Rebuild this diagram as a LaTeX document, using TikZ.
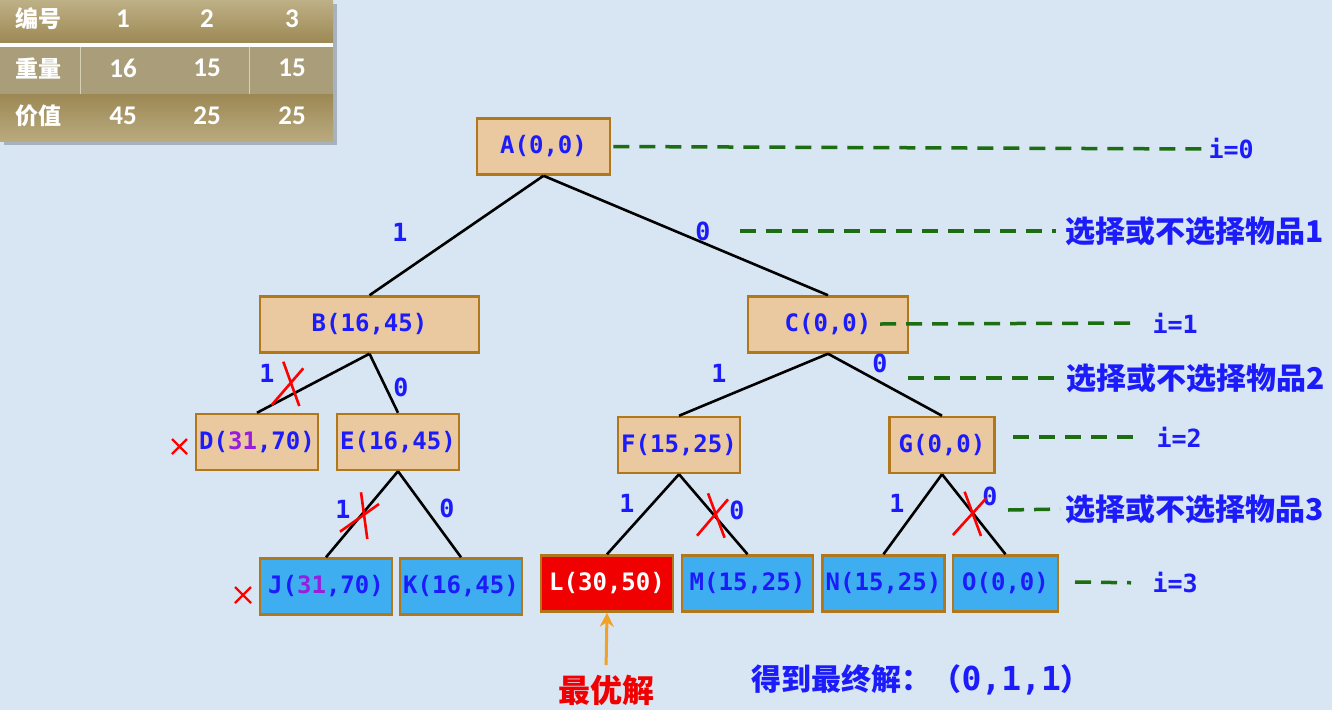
\documentclass[tikz,border=0pt]{standalone}
\usepackage{fontspec}
\setmonofont{DejaVu Sans Mono}
\newfontfamily\cjk{Noto Sans CJK SC}
\newfontfamily\tabfont{Carlito}
\usetikzlibrary{arrows.meta}

\definecolor{bgblue}{RGB}{216,229,243}
\definecolor{tanfill}{RGB}{234,200,160}
\definecolor{leafblue}{RGB}{62,174,240}
\definecolor{bestred}{RGB}{240,0,0}
\definecolor{boxedge}{RGB}{176,120,26}
\definecolor{labelblue}{RGB}{28,28,250}
\definecolor{numpurple}{RGB}{150,30,220}
\definecolor{guidegreen}{RGB}{28,110,16}
\definecolor{arroworange}{RGB}{240,162,40}
\definecolor{tabtop}{RGB}{190,176,134}
\definecolor{tabbot}{RGB}{156,136,84}
\definecolor{tabmid}{RGB}{170,158,122}

\tikzset{
  tanbox/.style={draw=boxedge,fill=tanfill,line width=2.5pt,minimum height=56pt,inner sep=2pt,
    text=labelblue,font=\ttfamily\bfseries\fontsize{24}{28}\selectfont},
  leafbox/.style={tanbox,fill=leafblue},
  bestbox/.style={tanbox,fill=bestred,text=white},
  branch/.style={line width=2.6pt},
  bit/.style={text=labelblue,font=\ttfamily\bfseries\fontsize{25}{28}\selectfont},
  cut/.style={draw=red,line width=2.6pt},
  guide/.style={draw=guidegreen,line width=3.5pt,dash pattern=on 16pt off 10pt},
  stage/.style={anchor=west,text=labelblue,font=\ttfamily\bfseries\fontsize{25}{28}\selectfont},
  choice/.style={anchor=west,text=labelblue,font=\cjk\bfseries\fontsize{30}{32}\selectfont},
  tabhead/.style={text=white,font=\cjk\bfseries\fontsize{23}{26}\selectfont},
  tabcell/.style={text=white,font=\tabfont\bfseries\fontsize{27}{30}\selectfont},
}

\begin{document}
\begin{tikzpicture}[x=1pt,y=-1pt,>={Stealth[length=14pt,width=14pt]}]
    \useasboundingbox (0,0) rectangle (1332,710);
    \fill[bgblue] (0,0) rectangle (1332,710);
    % table
    \fill[black,opacity=0.22] (4,4) rectangle (337,145);
    \shade[top color=tabtop,bottom color=tabbot] (0,0) rectangle (333,43);
    \fill[white] (0,43) rectangle (333,47);
    \fill[tabmid] (0,47) rectangle (333,94);
    \shade[top color=tabbot,bottom color=tabtop!85!tabbot] (0,94) rectangle (333,141);
    \draw[tabtop!60!white,line width=0.8pt] (80.5,47)--(80.5,94) (249,47)--(249,94);
    \node[tabhead] (h1) at (39,19) {编号};
    \node[tabhead] (h2) at (39,68) {重量};
    \node[tabhead] (h3) at (39,116) {价值};
    \foreach \x/\n/\w/\v in {123/1/16/45,207/2/15/25,292/3/15/25}{
        \node[tabcell] (n\n) at (\x,19) {\n};
        \node[tabcell] (w\n) at (\x,68) {\w};
        \node[tabcell] (v\n) at (\x,116) {\v};
    }
    % tree
    \node[tanbox,minimum width=133pt] (A) at (543.5,146.5) {A(0,0)};
    \node[tanbox,minimum width=219pt] (B) at (369.5,324.5) {B(16,45)};
    \node[tanbox,minimum width=160pt] (C) at (828,324.5) {C(0,0)};
    \node[tanbox,minimum width=122pt] (D) at (257,442) {D(\textcolor{numpurple}{31},70)};
    \node[tanbox,minimum width=122pt] (E) at (398,442) {E(16,45)};
    \node[tanbox,minimum width=122pt] (F) at (679,445) {F(15,25)};
    \node[tanbox,minimum width=105pt] (G) at (942,445) {G(0,0)};
    \node[leafbox,minimum width=132pt] (J) at (326,586.5) {J(\textcolor{numpurple}{31},70)};
    \node[leafbox,minimum width=122pt] (K) at (461,586.5) {K(16,45)};
    \node[bestbox,minimum width=132pt] (L) at (607,583.5) {L(30,50)};
    \node[leafbox,minimum width=131pt] (M) at (747.5,583.5) {M(15,25)};
    \node[leafbox,minimum width=122pt] (N) at (883.5,583.5) {N(15,25)};
    \node[leafbox,minimum width=105pt] (O) at (1005.5,583.5) {O(0,0)};
    \foreach \p/\c in {A/B,A/C,B/D,B/E,C/F,C/G,E/J,E/K,F/L,F/M,G/N,G/O}
        \draw[branch] (\p.south)--(\c.north);
    % 0/1 on the branches
    \node[bit] (ab) at (400,232) {1};
    \node[bit] (ac) at (703,231) {0};
    \node[bit] (bd) at (267,373) {1};
    \node[bit] (be) at (401,387) {0};
    \node[bit] (ej) at (343,509) {1};
    \node[bit] (ek) at (447,508) {0};
    \node[bit] (cf) at (719,373) {1};
    \node[bit] (cg) at (880,363) {0};
    \node[bit] (fl) at (627,503) {1};
    \node[bit] (fm) at (737,510) {0};
    \node[bit] (gn) at (897,503) {1};
    \node[bit] (go) at (990,496) {0};
    % pruned
    \draw[cut] (271.7,405)--(303.3,368.3) (283.3,361.7)--(299.3,406);
    \draw[cut] (340,531.7)--(379,504) (361,492.3)--(367.3,539);
    \draw[cut] (697,535.7)--(728,499.3) (708,493.3)--(724.6,537.7);
    \draw[cut] (952.9,535)--(986.2,498.3) (964.6,491.7)--(981,536);
    \draw[cut,line width=2.2pt] (172,439)--(187,454) (172,454)--(187,439);
    \draw[cut,line width=2.2pt] (235,587)--(251,603) (235,603)--(251,587);
    % levels
    \node[stage] (i0) at (1205,149) {i=0};
    \node[choice] (s1) at (1062,231) {选择或不选择物品1};
    \node[stage] (i1) at (1149,323) {i=1};
    \node[choice] (s2) at (1063,378) {选择或不选择物品2};
    \node[stage] (i2) at (1153,437) {i=2};
    \node[choice] (s3) at (1062,509) {选择或不选择物品3};
    \node[stage] (i3) at (1149,583) {i=3};
    \coordinate (g1) at (740,231);
    \coordinate (g2) at (880,324);
    \coordinate (g3) at (908,378);
    \coordinate (g4) at (1013,437);
    \coordinate (g5) at (1008,510);
    \coordinate (g6) at (1075,582);
    \draw[guide,shorten <=2pt] (A.east)--(i0.west);
    \draw[guide,shorten >=6pt] (g1)--(s1.west);
    \draw[guide,shorten >=18pt] (g2)--(i1.west);
    \draw[guide,shorten >=8pt] (g3)--(s2.west);
    \draw[guide,shorten >=20pt] (g4)--(i2.west);
    \draw[guide,shorten >=2pt] (g5)--(s3.west);
    \draw[guide,shorten >=18pt] (g6)--(i3.west);
    % answer
    \node[text=bestred,font=\cjk\bfseries\fontsize{32}{36}\selectfont] (bestlbl) at (606,690) {最优解};
    \draw[->,arroworange,line width=3pt,shorten <=6pt] (bestlbl.north)--(L.south);
    \node[anchor=west,text=labelblue,font=\cjk\bfseries\fontsize{30}{34}\selectfont] (final) at (748,680)
        {得到最终解：（{\ttfamily\fontsize{33}{34}\selectfont 0,1,1}）};
\end{tikzpicture}
\end{document}
